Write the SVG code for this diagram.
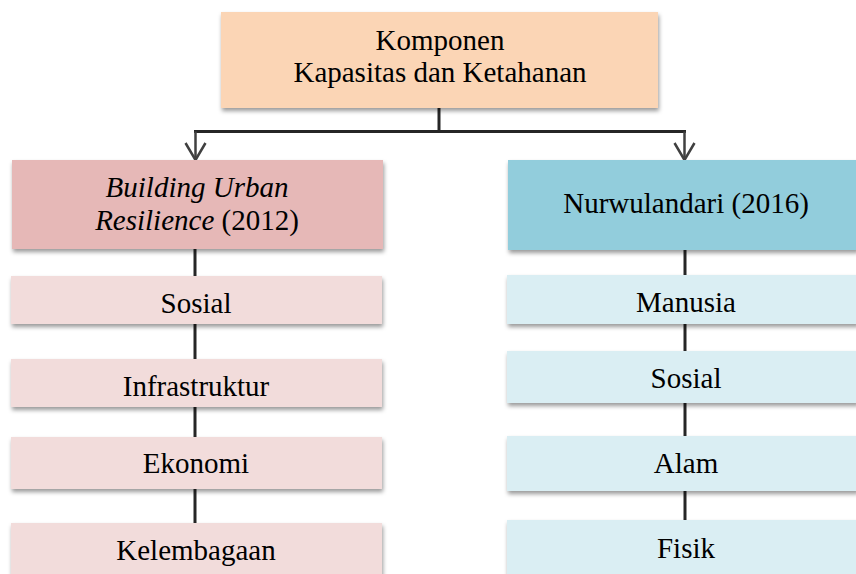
<svg xmlns="http://www.w3.org/2000/svg" width="856" height="574" viewBox="0 0 856 574">
<style>
text{font-family:"Liberation Serif","Times New Roman",serif;font-size:29px;fill:#000;text-anchor:middle}
.it{font-style:italic}
.top{fill:#FBD5B5}
.lh{fill:#E6B8B7}
.ls{fill:#F2DCDB}
.rh{fill:#92CDDC}
.rs{fill:#DAEEF3}
.ln{stroke:#262626;stroke-width:3;fill:none}
.ar{stroke:#404040;stroke-width:2.5;fill:none}
</style>
<defs>
<filter id="sh" x="-5%" y="-20%" width="112%" height="150%">
<feDropShadow dx="1" dy="3" stdDeviation="2" flood-color="#000" flood-opacity="0.4"/>
</filter>
<marker id="ah" markerWidth="24" markerHeight="24" refX="12" refY="20" orient="0" markerUnits="userSpaceOnUse">
<path d="M2,3 L12,20 L22,3" fill="none" stroke="#404040" stroke-width="2.5"/>
</marker>
</defs>
<g id="connectors">
<path class="ln" d="M439,108 V131.5"/>
<path class="ln" d="M194,131.5 H686"/>
<path class="ar" d="M195.5,131.5 V160" marker-end="url(#ah)"/>
<path class="ar" d="M684.5,131.5 V160" marker-end="url(#ah)"/>
<path class="ln" d="M195,249 V276 M195,324 V359 M195,407 V437 M195,489 V523"/>
<path class="ln" d="M685,250 V275 M685,324 V351 M685,403 V436 M685,491 V520"/>
</g>
<g id="top">
<rect class="top" x="221" y="12" width="437" height="96" filter="url(#sh)"/>
<text x="440" y="50">Komponen</text>
<text x="440" y="82">Kapasitas dan Ketahanan</text>
</g>
<g id="left-header">
<rect class="lh" x="12" y="160" width="371" height="89" filter="url(#sh)"/>
<text x="197" y="197" class="it">Building Urban</text>
<text x="197" y="230"><tspan class="it">Resilience</tspan> (2012)</text>
</g>
<g id="right-header">
<rect class="rh" x="508" y="160" width="350" height="90" filter="url(#sh)"/>
<text x="686" y="213">Nurwulandari (2016)</text>
</g>
<g id="l-sosial">
<rect class="ls" x="11" y="276" width="371" height="48" filter="url(#sh)"/>
<text x="196" y="313">Sosial</text>
</g>
<g id="l-infrastruktur">
<rect class="ls" x="11" y="359" width="371" height="48" filter="url(#sh)"/>
<text x="196" y="396">Infrastruktur</text>
</g>
<g id="l-ekonomi">
<rect class="ls" x="11" y="437" width="371" height="52" filter="url(#sh)"/>
<text x="196" y="473">Ekonomi</text>
</g>
<g id="l-kelembagaan">
<rect class="ls" x="11" y="523" width="371" height="60" filter="url(#sh)"/>
<text x="196" y="560">Kelembagaan</text>
</g>
<g id="r-manusia">
<rect class="rs" x="507" y="275" width="351" height="49" filter="url(#sh)"/>
<text x="686" y="312">Manusia</text>
</g>
<g id="r-sosial">
<rect class="rs" x="507" y="351" width="351" height="52" filter="url(#sh)"/>
<text x="686" y="388">Sosial</text>
</g>
<g id="r-alam">
<rect class="rs" x="507" y="436" width="351" height="55" filter="url(#sh)"/>
<text x="686" y="473">Alam</text>
</g>
<g id="r-fisik">
<rect class="rs" x="507" y="520" width="351" height="60" filter="url(#sh)"/>
<text x="686" y="558">Fisik</text>
</g>
</svg>
